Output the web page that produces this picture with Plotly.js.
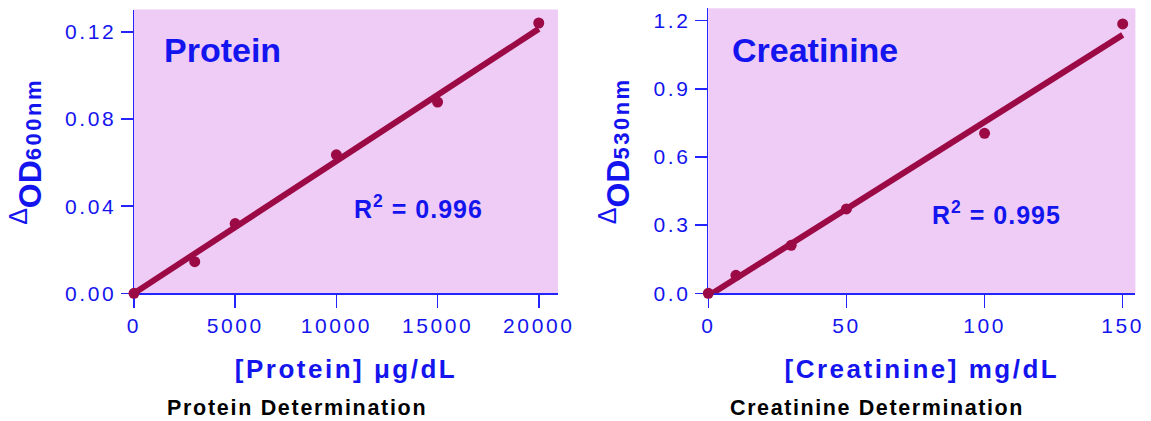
<!DOCTYPE html>
<html><head><meta charset="utf-8">
<script src="https://cdn.plot.ly/plotly-3.0.1.min.js"></script>
<style>
html,body{margin:0;padding:0;background:#fff;}
#chart{width:1151px;height:421px;}
.xtick text, .x2tick text, .ytick text, .y2tick text {letter-spacing:2.6px;}
</style></head><body><div id="chart"></div><script>
// ---- Data ----
const proteinConc = [0, 3000, 5000, 10000, 15000, 20000];
const proteinOD = [0, 0.0145, 0.032, 0.0636, 0.0878, 0.1241];
const proteinFitX = [0, 20000];
const proteinFitY = [0, 0.1214];
const creatConc = [0, 10, 30, 50, 100, 150];
const creatOD = [0, 0.079, 0.211, 0.371, 0.704, 1.185];
const creatFitX = [1.5, 150];
const creatFitY = [0, 1.137];

const proteinXTicks = [0, 5000, 10000, 15000, 20000];
const proteinXTickText = ['0', '5000', '10000', '15000', '20000'];
const proteinYTicks = [0, 0.04, 0.08, 0.12];
const proteinYTickText = ['0.00', '0.04', '0.08', '0.12'];
const creatXTicks = [0, 50, 100, 150];
const creatXTickText = ['0', '50', '100', '150'];
const creatYTicks = [0, 0.3, 0.6, 0.9, 1.2];
const creatYTickText = ['0.0', '0.3', '0.6', '0.9', '1.2'];

const proteinR2 = '0.996';
const creatR2 = '0.995';

// ---- Styles ----
const W = 1151, H = 421;
const BLUE = '#1414EE';
const AXIS = '#2424FF';
const MAROON = '#9C0A46';
const BG = '#EECCF6';
const FONT = 'Liberation Sans, Arial, sans-serif';

const px = v => v / W;
const py = v => (H - v) / H;

const traces = [
  {x: proteinFitX, y: proteinFitY, xaxis: 'x', yaxis: 'y', mode: 'lines',
   line: {color: MAROON, width: 6}, hoverinfo: 'skip'},
  {x: proteinConc, y: proteinOD, xaxis: 'x', yaxis: 'y', mode: 'markers',
   marker: {color: MAROON, size: 11}, cliponaxis: false},
  {x: creatFitX, y: creatFitY, xaxis: 'x2', yaxis: 'y2', mode: 'lines',
   line: {color: MAROON, width: 6}, hoverinfo: 'skip'},
  {x: creatConc, y: creatOD, xaxis: 'x2', yaxis: 'y2', mode: 'markers',
   marker: {color: MAROON, size: 11}, cliponaxis: false}
];

function xAxis(domain, range, tv, tt, title, anchor) {
  return {
    domain: domain, range: range, anchor: anchor, tickvals: tv, ticktext: tt,
    showline: true, linecolor: AXIS, linewidth: 1.5, mirror: false,
    ticks: 'outside', ticklen: 13, tickwidth: 1.5, tickcolor: AXIS,
    showgrid: false, zeroline: false, layer: 'below traces',
    tickfont: {family: FONT, size: 21, color: BLUE},
    title: {text: title, font: {family: FONT, size: 26, color: BLUE, weight: 'bold'}, standoff: 24},
    fixedrange: true
  };
}
function yAxis(domain, range, tv, tt, title, anchor) {
  return {
    domain: domain, range: range, anchor: anchor, tickvals: tv, ticktext: tt,
    showline: true, linecolor: AXIS, linewidth: 1.5, mirror: false,
    ticks: 'outside', ticklen: 12, tickwidth: 1.5, tickcolor: AXIS,
    showgrid: false, zeroline: false, layer: 'below traces',
    tickfont: {family: FONT, size: 21, color: BLUE},
    title: {text: title, font: {family: FONT, size: 32, color: BLUE, weight: 'bold'}, standoff: 14},
    fixedrange: true
  };
}

const ytitle = nm => "<sup><span style='font-weight:normal;font-size:25px'>Δ</span></sup>OD<span style='font-size:22px;letter-spacing:2.5px'>" + nm + "</span>";

const layout = {
  width: W, height: H,
  margin: {l: 0, r: 0, t: 0, b: 0},
  paper_bgcolor: '#ffffff',
  plot_bgcolor: BG,
  showlegend: false,
  xaxis: xAxis([px(134), px(558)], [0, 20950], proteinXTicks, proteinXTickText,
    "<span style='letter-spacing:2.5px'>[Protein] μg/dL</span>", 'y'),
  yaxis: yAxis([py(293.3), py(9.5)], [0, 0.1303], proteinYTicks, proteinYTickText, ytitle('600nm'), 'x'),
  xaxis2: xAxis([px(708.3), px(1135.4)], [0, 154.6], creatXTicks, creatXTickText,
    "<span style='letter-spacing:2.5px'>[Creatinine] mg/dL</span>", 'y2'),
  yaxis2: yAxis([py(293.3), py(8.3)], [0, 1.254], creatYTicks, creatYTickText, ytitle('530nm'), 'x2'),
  annotations: [
    {text: 'Protein', xref: 'paper', yref: 'paper', x: px(162), y: py(50.5), xanchor: 'left', yanchor: 'middle',
     showarrow: false, font: {family: FONT, size: 34, color: BLUE, weight: 'bold'}},
    {text: 'Creatinine', xref: 'paper', yref: 'paper', x: px(729.5), y: py(50.5), xanchor: 'left', yanchor: 'middle',
     showarrow: false, font: {family: FONT, size: 34, color: BLUE, weight: 'bold'}},
    {text: "<span style='letter-spacing:1px'>R<sup>2</sup> = " + proteinR2 + "</span>", xref: 'paper', yref: 'paper', x: px(352), y: py(207), xanchor: 'left', yanchor: 'middle',
     showarrow: false, font: {family: FONT, size: 25, color: BLUE, weight: 'bold'}},
    {text: "<span style='letter-spacing:1px'>R<sup>2</sup> = " + creatR2 + "</span>", xref: 'paper', yref: 'paper', x: px(930.5), y: py(212.5), xanchor: 'left', yanchor: 'middle',
     showarrow: false, font: {family: FONT, size: 25, color: BLUE, weight: 'bold'}},
    {text: "<span style='letter-spacing:1.7px'>Protein Determination</span>", xref: 'paper', yref: 'paper', x: px(296.5), y: py(407.5), xanchor: 'center', yanchor: 'middle',
     showarrow: false, font: {family: FONT, size: 21.5, color: '#000000', weight: 'bold'}},
    {text: "<span style='letter-spacing:1.6px'>Creatinine Determination</span>", xref: 'paper', yref: 'paper', x: px(876.5), y: py(407.5), xanchor: 'center', yanchor: 'middle',
     showarrow: false, font: {family: FONT, size: 21.5, color: '#000000', weight: 'bold'}}
  ]
};

Plotly.newPlot('chart', traces, layout, {displayModeBar: false, staticPlot: true});
</script></body></html>
